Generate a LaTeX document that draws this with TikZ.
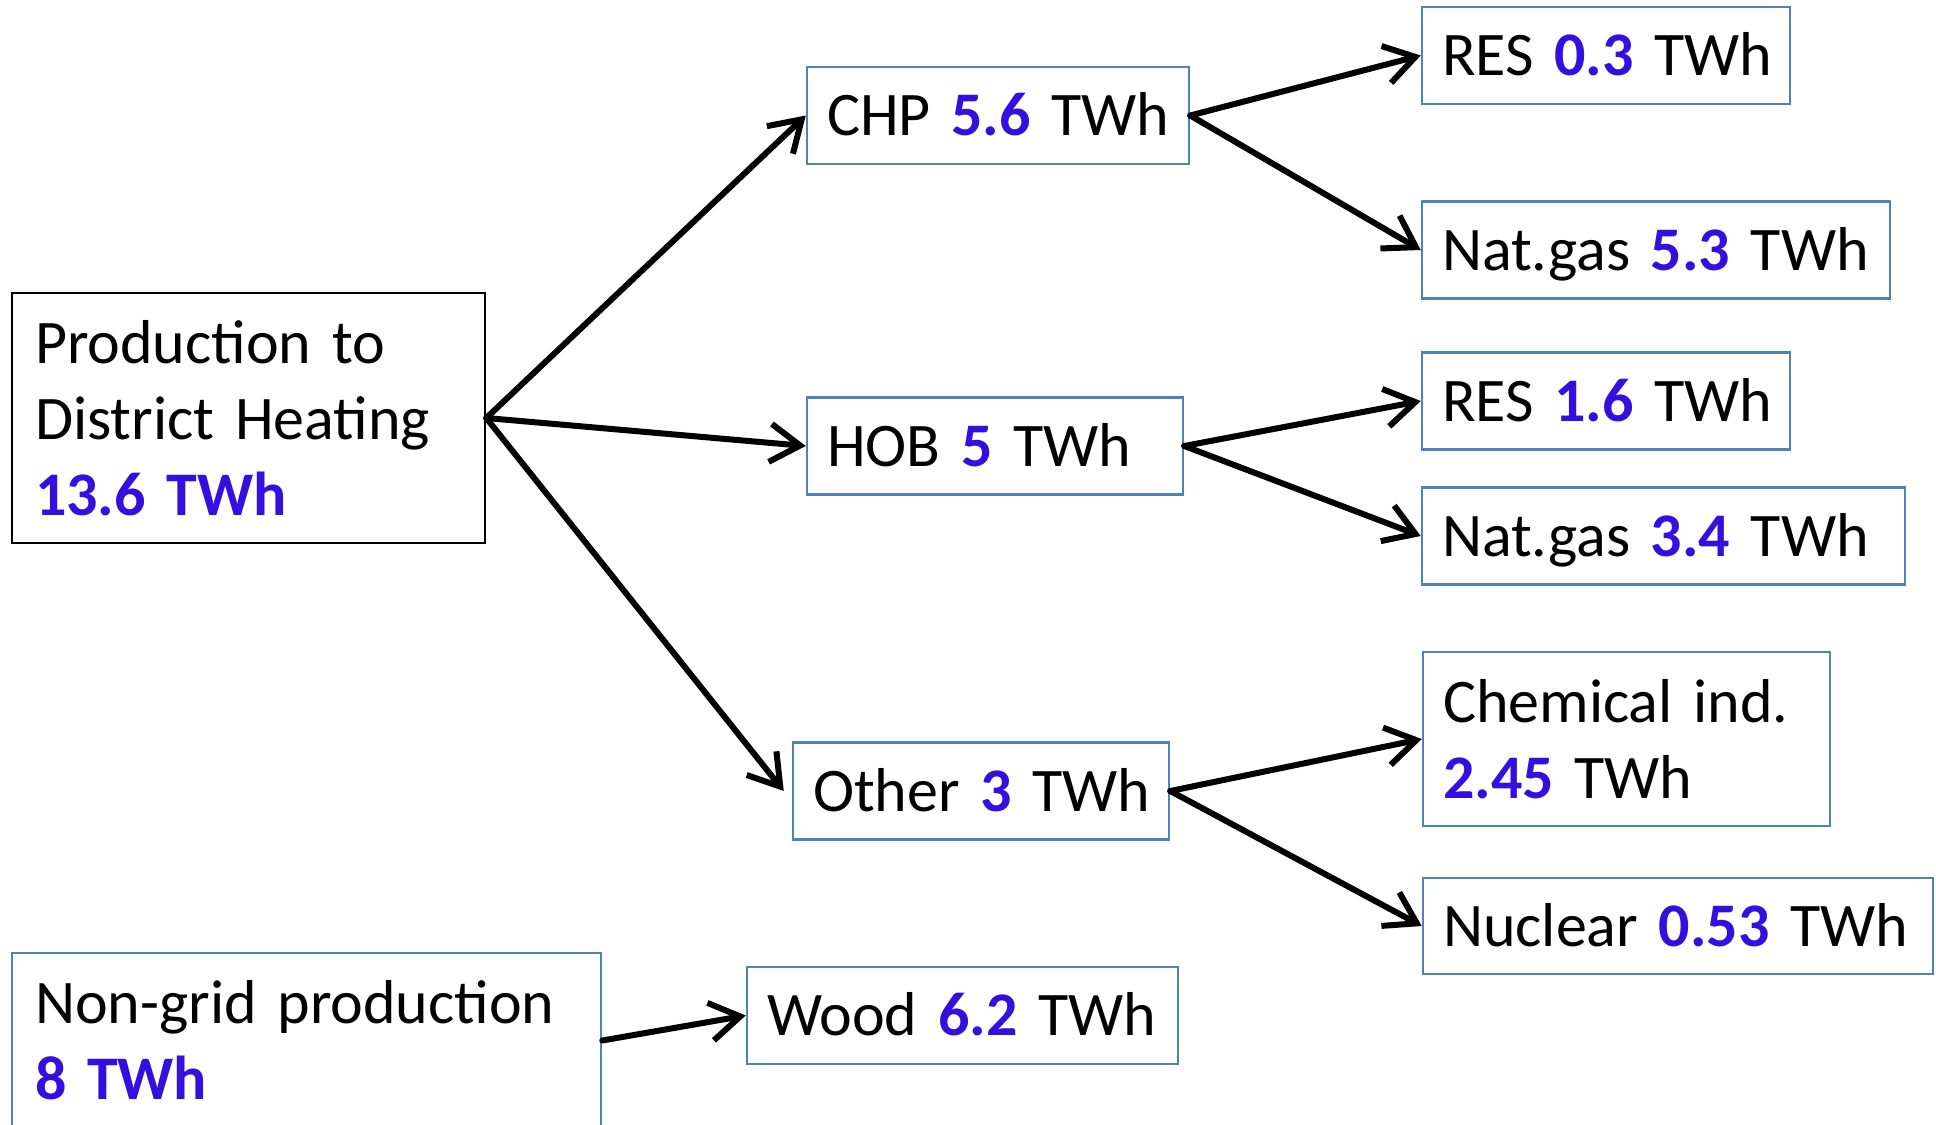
\documentclass[tikz,border=0pt]{standalone}
\usepackage{fontspec}
\setmainfont{Carlito}
\usepackage{tikz}
\usetikzlibrary{arrows.meta}

\definecolor{numblue}{RGB}{51,16,224}
\definecolor{boxblue}{RGB}{79,129,189}
\newcommand{\val}[1]{{\bfseries\color{numblue}#1}}

\begin{document}
\begin{tikzpicture}[x=0.5pt, y=-0.5pt,
        box/.style={draw=boxblue, line width=1.25pt, inner xsep=10pt, inner ysep=0pt,
                    align=left, font=\fontsize{31}{38}\selectfont},
        single/.style={box, minimum height=48.5pt, text height=24pt, text depth=4pt},
        flow/.style={-{Straight Barb[length=15pt,width=19pt]}, line width=3pt, line cap=round}]
        \useasboundingbox (0,0) rectangle (1936,1124);
        \clip (0,0) rectangle (1936,1124);

        \node[box, draw=black, inner xsep=11.5pt, text width=213.5pt, minimum height=125pt] (main) at (248.5,418)
            {Production to\\District Heating\\\val{13.6 TWh}};
        \node[box, inner xsep=11.5pt, text width=271.5pt, minimum height=87.5pt] (nongrid) at (306.5,1040.5)
            {Non-grid production\\\val{8 TWh}};

        \node[single, text width=171pt] (chp) at (998,115.5) {\mbox{CHP \val{5.6} TWh}};
        \node[single, text width=168pt] (hob) at (995,446) {\mbox{HOB \val{5} TWh}};
        \node[single, text width=168pt] (other) at (981,791) {\mbox{Other \val{3} TWh}};
        \node[single, text width=195.5pt] (wood) at (962.5,1015.5) {\mbox{Wood \val{6.2} TWh}};

        \node[single, text width=164pt] (res1) at (1606,55.5) {\mbox{RES \val{0.3} TWh}};
        \node[single, text width=214pt] (gas1) at (1656,250) {\mbox{Nat.gas \val{5.3} TWh}};
        \node[single, text width=164pt] (res2) at (1606,401) {\mbox{RES \val{1.6} TWh}};
        \node[single, text width=221.5pt] (gas2) at (1663.5,536) {\mbox{Nat.gas \val{3.4} TWh}};
        \node[box, text width=183.5pt, minimum height=87pt] (chem) at (1626.5,739)
            {Chemical ind.\\\val{2.45} TWh};
        \node[single, text width=235pt, minimum height=48pt] (nuc) at (1678,926) {\mbox{Nuclear \val{0.53} TWh}};

        \draw[flow] (main.east) -- (chp.west);
        \draw[flow] (main.east) -- (hob.west);
        \draw[flow] (main.east) -- ([xshift=-4pt]other.west);
        \draw[flow] (chp.east) -- (res1.west);
        \draw[flow] (chp.east) -- (gas1.west);
        \draw[flow] (hob.east) -- (res2.west);
        \draw[flow] (hob.east) -- (gas2.west);
        \draw[flow] (other.east) -- (chem.west);
        \draw[flow] (other.east) -- (nuc.west);
        \draw[flow] (nongrid.east) -- (wood.west);
    \end{tikzpicture}
\end{document}
